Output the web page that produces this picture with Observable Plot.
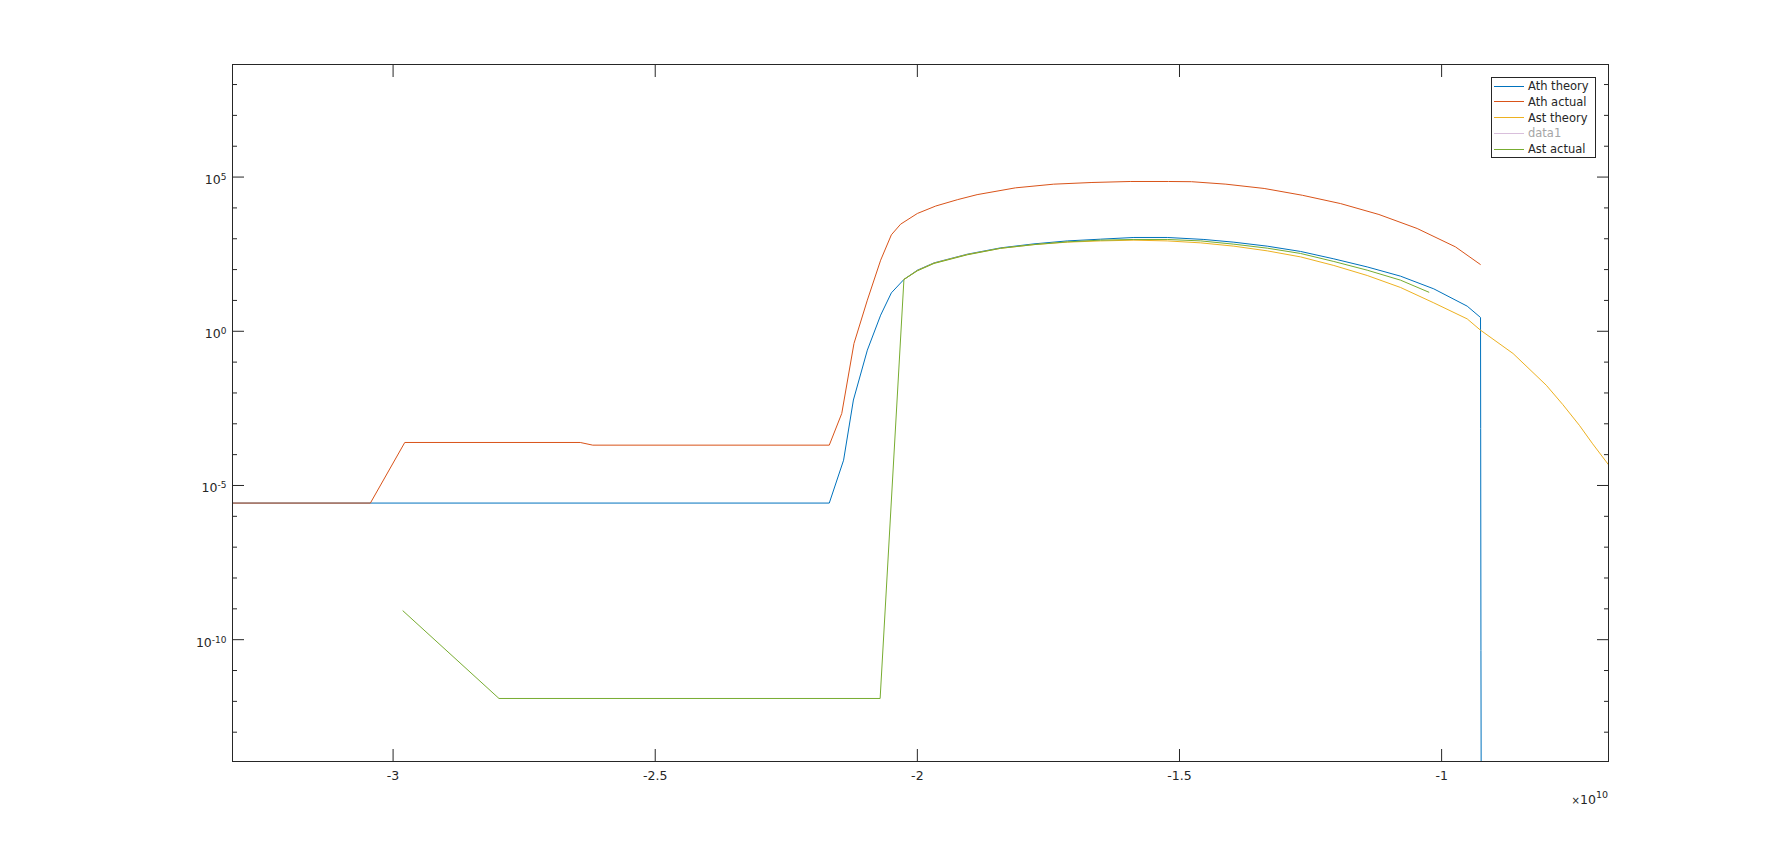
<!DOCTYPE html>
<html>
<head>
<meta charset="utf-8">
<script src="https://cdn.jsdelivr.net/npm/d3@7"></script>
<script src="https://cdn.jsdelivr.net/npm/@observablehq/plot@0.6"></script>
<style>
  html, body { margin: 0; padding: 0; background: #fff; }
  #wrap { position: relative; width: 1778px; height: 856px; font-family: "DejaVu Sans", sans-serif; color: #262626; }
  #legend { position: absolute; left: 1491px; top: 77px; width: 105px; height: 81px; border: 1px solid #262626; background: #fff; box-sizing: border-box; }
  .row { position: absolute; left: 2px; height: 15.75px; display: flex; align-items: center; font-size: 11.5px; white-space: nowrap; }
  .swatch { width: 30px; height: 0; border-top: 1px solid; margin-right: 4px; }
  #expo { position: absolute; right: 170px; top: 790px; font-size: 12.5px; color: #262626; white-space: nowrap; }
  #expo .x { font-size: 10px; }
  #expo sup { font-size: 9.5px; position: relative; top: -1px; }
</style>
</head>
<body>
<div id="wrap"></div>
<script>
// x values are in units of 1e10
const xDomain = [-3.3063, -0.6817];
const yDomain = [Math.pow(10, -13.95), Math.pow(10, 8.65)];
const xTicks = [-3, -2.5, -2, -1.5, -1];
const yMajorTicks = [1e-10, 1e-5, 1, 1e5];
const yMinorTicks = [1e-13, 1e-12, 1e-11, 1e-9, 1e-8, 1e-7, 1e-6, 1e-4, 1e-3, 1e-2, 1e-1, 1e1, 1e2, 1e3, 1e4, 1e6, 1e7, 1e8];

const seriesNames = ["Ath theory", "Ath actual", "Ast theory", "data1", "Ast actual"];
const seriesColors = ["#0072BD", "#D95319", "#EDB120", "#d9bfdc", "#77AC30"];

const athTheoryX = [-3.3063, -2.168, -2.1407, -2.122, -2.0954, -2.070, -2.0496, -2.0256, -2.000, -1.9683, -1.9046, -1.8412, -1.7776, -1.714, -1.6507, -1.587, -1.5233, -1.4535, -1.3963, -1.3326, -1.269, -1.2056, -1.1419, -1.0784, -1.0149, -0.9512, -0.9258, -0.9255, -0.9250, -0.9240];
const athTheoryY = [2.69e-6, 2.69e-6, 6.6e-5, 5.9e-3, 0.244, 3.33, 17.6, 47.9, 95.5, 165, 316, 506, 682, 851, 968, 1100, 1100, 948, 774, 575, 387, 223, 122, 61.2, 23.7, 6.52, 2.80, 7.08e-4, 4.47e-11, 1e-20];

const athActualX = [-3.3063, -3.0433, -2.9777, -2.643, -2.6192, -2.168, -2.1442, -2.1209, -2.0954, -2.070, -2.0496, -2.0319, -2.000, -1.965, -1.923, -1.886, -1.8129, -1.7399, -1.667, -1.594, -1.521, -1.4771, -1.4115, -1.3385, -1.2656, -1.1926, -1.1196, -1.0467, -0.9737, -0.9262];
const athActualY = [2.69e-6, 2.69e-6, 2.48e-4, 2.48e-4, 2.03e-4, 2.03e-4, 2.16e-3, 0.402, 10.2, 202, 1340, 2970, 6600, 1.15e4, 1.86e4, 2.69e4, 4.47e4, 5.89e4, 6.67e4, 7.19e4, 7.19e4, 7.08e4, 5.89e4, 4.27e4, 2.57e4, 1.38e4, 6120, 2150, 546, 147];

const astTheoryX = [-2.0256, -2.000, -1.9683, -1.9046, -1.8412, -1.7776, -1.714, -1.6507, -1.587, -1.5234, -1.4594, -1.3963, -1.3326, -1.269, -1.2056, -1.1419, -1.0784, -1.0149, -0.9512, -0.9263, -0.8637, -0.8004, -0.7687, -0.7372, -0.7119, -0.6817];
const astTheoryY = [47.9, 93.3, 162, 309, 490, 646, 776, 851, 900, 851, 735, 575, 405, 258, 136, 64.4, 26.3, 8.34, 2.52, 1.1, 0.19, 0.0178, 4.17e-3, 8.9e-4, 2.24e-4, 4.7e-5];

const astActualX = [-2.9811, -2.798, -2.071, -2.0256, -2.000, -1.9683, -1.9046, -1.8412, -1.7776, -1.714, -1.6507, -1.587, -1.5234, -1.4594, -1.3963, -1.3326, -1.269, -1.2056, -1.1419, -1.0784, -1.0244];
const astActualY = [8.6e-10, 1.24e-12, 1.24e-12, 47.9, 91.2, 158, 302, 490, 646, 794, 900, 948, 948, 851, 667, 495, 333, 183, 95.7, 45.4, 18.5];

const toRows = (xs, ys) => xs.map((x, i) => ({x, y: ys[i]}));
const athTheory = toRows(athTheoryX, athTheoryY);
const athActual = toRows(athActualX, athActualY);
const astTheory = toRows(astTheoryX, astTheoryY);
const astActual = toRows(astActualX, astActualY);

const axisColor = "#262626";

const chart = Plot.plot({
  width: 1778,
  height: 856,
  marginLeft: 232,
  marginRight: 170,
  marginTop: 64,
  marginBottom: 95,
  x: {domain: xDomain},
  y: {type: "log", domain: yDomain},
  style: {fontFamily: "DejaVu Sans", fontSize: "12.5px", color: axisColor, background: "white", overflow: "visible"},
  marks: [
    Plot.line(athTheory, {x: "x", y: "y", stroke: seriesColors[0], strokeWidth: 1, clip: true}),
    Plot.line(athActual, {x: "x", y: "y", stroke: seriesColors[1], strokeWidth: 1, clip: true}),
    Plot.line(astTheory, {x: "x", y: "y", stroke: seriesColors[2], strokeWidth: 1, clip: true}),
    Plot.line(astActual, {x: "x", y: "y", stroke: seriesColors[4], strokeWidth: 1, clip: true}),
    Plot.frame({stroke: axisColor, strokeWidth: 1}),
    Plot.axisX({anchor: "bottom", ticks: xTicks, tickSize: -12, fill: "none", stroke: axisColor}),
    Plot.axisX({anchor: "top", ticks: xTicks, tickSize: -12, fill: "none", stroke: axisColor}),
    Plot.axisX({anchor: "bottom", ticks: xTicks, tickSize: 0, tickPadding: 10, tickFormat: d => String(d), label: null, fill: axisColor}),
    Plot.axisY({anchor: "left", ticks: yMajorTicks, tickSize: -12, fill: "none", stroke: axisColor}),
    Plot.axisY({anchor: "right", ticks: yMajorTicks, tickSize: -12, fill: "none", stroke: axisColor}),
    Plot.axisY({anchor: "left", ticks: yMinorTicks, tickSize: -5, fill: "none", stroke: axisColor}),
    Plot.axisY({anchor: "right", ticks: yMinorTicks, tickSize: -5, fill: "none", stroke: axisColor}),
    Plot.axisY({anchor: "left", ticks: yMajorTicks, tickSize: 0, tickPadding: 6, dy: 3, tickFormat: d => "10^" + Math.round(Math.log10(d)), label: null, fill: axisColor})
  ]
});

// superscript exponents on y tick labels
chart.querySelectorAll('g[aria-label="y-axis tick label"] text').forEach(t => {
  const parts = t.textContent.split("^");
  if (parts.length !== 2) return;
  t.textContent = parts[0];
  const ts = document.createElementNS("http://www.w3.org/2000/svg", "tspan");
  ts.setAttribute("dy", "-0.45em");
  ts.setAttribute("font-size", "9px");
  ts.textContent = parts[1];
  t.appendChild(ts);
});

const wrap = document.getElementById("wrap");
wrap.appendChild(chart);

// legend
const legend = document.createElement("div");
legend.id = "legend";
seriesNames.forEach((name, i) => {
  const row = document.createElement("div");
  row.className = "row";
  row.style.top = (0.3 + i * 15.75) + "px";
  const sw = document.createElement("span");
  sw.className = "swatch";
  sw.style.borderTopColor = seriesColors[i];
  const label = document.createElement("span");
  label.textContent = name;
  label.style.color = name === "data1" ? "#a6a6a6" : axisColor;
  row.appendChild(sw);
  row.appendChild(label);
  legend.appendChild(row);
});
wrap.appendChild(legend);

// exponent multiplier
const expo = document.createElement("div");
expo.id = "expo";
expo.innerHTML = '<span class="x">×</span>10<sup>10</sup>';
wrap.appendChild(expo);
</script>
</body>
</html>
